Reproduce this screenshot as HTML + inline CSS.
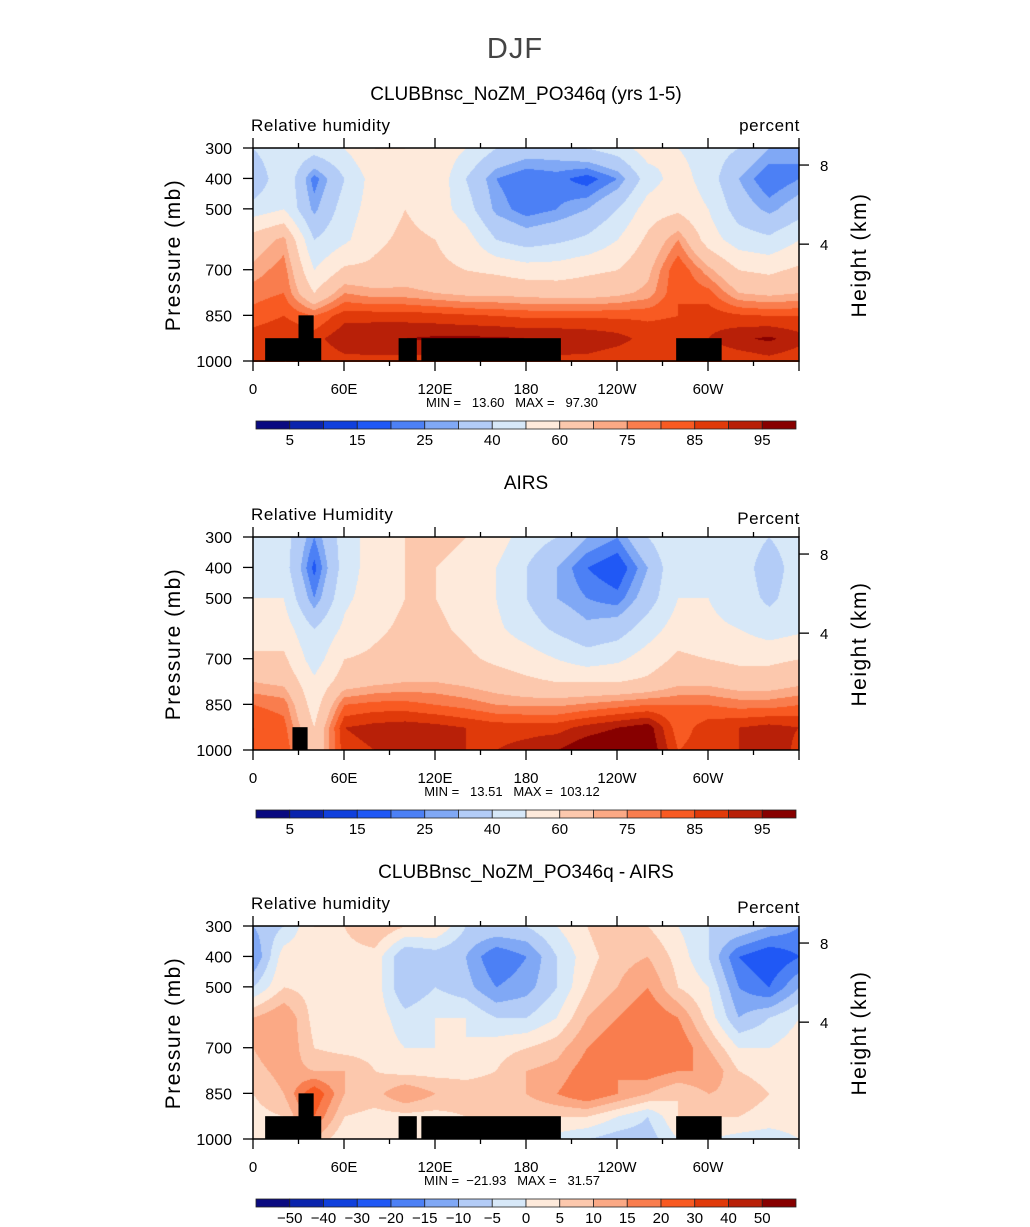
<!DOCTYPE html>
<html><head><meta charset="utf-8"><style>
html,body{margin:0;padding:0;background:#fff;}
#wrap{position:relative;width:1030px;height:1227px;overflow:hidden;font-family:"Liberation Sans",sans-serif;}
canvas{position:absolute;left:253px;}
svg{position:absolute;left:0;top:0;}
</style></head><body>
<div id="wrap">
<canvas id="c0" width="546" height="214" style="top:148px"></canvas>
<canvas id="c1" width="546" height="213" style="top:537px"></canvas>
<canvas id="c2" width="546" height="213" style="top:926px"></canvas>
<svg id="ov" width="1030" height="1227"></svg>
</div>
<script>
const lons=[0,20,40,60,80,100,120,140,160,180,200,220,240,260,280,300,320,340,360];
const levels=[300,400,500,600,700,775,850,925,1000];
const model=[
[40,50,45,50,60,60,58,50,40,35,35,40,45,55,50,45,40,30,25],
[30,50,22,40,55,60,58,40,25,20,22,17,25,45,55,45,30,20,25],
[45,50,28,45,55,60,56,45,28,22,25,30,40,55,58,50,35,28,35],
[65,72,40,48,58,62,60,55,40,35,38,42,50,62,75,55,45,42,50],
[72,78,50,62,62,65,62,60,58,55,55,58,60,68,85,72,60,58,62],
[78,80,60,75,72,72,70,68,68,67,66,66,68,72,85,82,70,68,70],
[82,85,80,88,88,88,87,86,85,84,84,84,84,84,85,88,86,85,85],
[88,90,88,94,95,95,96,96,96,95,95,94,92,88,88,90,94,96,92],
[85,85,85,88,88,88,88,88,88,88,88,88,86,85,85,85,86,88,86]];
const airs=[
[50,45,25,45,55,60,62,60,55,45,40,30,25,40,50,48,45,40,45],
[45,45,18,45,55,60,60,58,50,40,30,20,15,30,50,48,45,35,45],
[50,50,25,48,55,60,60,56,50,40,30,25,22,35,50,50,45,38,45],
[55,55,40,52,58,62,62,58,52,45,38,32,35,45,55,52,50,45,48],
[62,62,45,60,62,65,65,62,58,55,50,45,48,55,62,60,58,58,60],
[70,68,52,65,68,70,70,68,65,62,60,60,60,62,68,68,65,65,68],
[80,78,55,80,82,82,80,78,75,74,74,76,78,80,80,80,78,78,80],
[85,82,60,90,92,93,92,90,88,88,88,92,95,98,82,88,90,92,90],
[85,85,62,88,90,90,90,90,90,92,95,100,102,100,85,88,90,95,88]];
const diff=[
[-10,-5,5,5,10,5,5,-5,-5,-5,0,5,10,5,0,-5,-5,-10,-15],
[-15,3,3,3,3,-10,-8,-10,-20,-15,-5,3,8,10,3,-5,-20,-25,-20],
[-5,5,3,3,3,-10,-5,-8,-15,-12,-5,5,10,15,5,0,-15,-20,-10],
[10,15,3,3,3,-3,0,0,-5,-5,0,10,15,20,15,3,-10,-5,0],
[10,15,5,3,3,0,0,0,3,5,8,15,20,20,20,10,0,0,3],
[8,12,10,10,5,3,3,3,5,10,12,18,15,18,15,15,5,3,3],
[5,10,25,10,8,15,10,8,8,10,15,20,15,10,5,10,8,5,3],
[3,5,20,5,3,3,3,5,5,5,5,5,0,-5,5,5,5,3,3],
[0,0,10,0,0,0,0,0,0,-2,-2,-5,-8,-8,0,0,-2,-3,0]];
const rhBounds=[5,10,15,20,25,30,40,50,60,70,75,80,85,90,95];
const rhLabels=["5","15","25","40","60","75","85","95"];
const dBounds=[-50,-40,-30,-20,-15,-10,-5,0,5,10,15,20,30,40,50];
const dLabels=["\u221250","\u221240","\u221230","\u221220","\u221215","\u221210","\u22125","0","5","10","15","20","30","40","50"];
const colors=['#0a0a80','#0a24ad','#1040dc','#2058f5','#4c80f5','#80a8f5','#b3ccf7','#d7e8f8','#feeadb','#fcc8ad','#fba985','#f97d4e','#f85a22','#e03a0a','#b82008','#870000'];
const xTickLabels=["0","60E","120E","180","120W","60W"];
const xTickLons=[0,60,120,180,240,300];
const pTicks=[300,400,500,700,850,1000];
const hTicks=[8,4];
const hTickP=[356,616];
const panels=[
 {top:148,title:"CLUBBnsc_NoZM_PO346q (yrs 1-5)",left:"Relative humidity",right:"percent",rdy:0,data:model,bounds:rhBounds,labels:rhLabels,odd:true,mm:"MIN =   13.60   MAX =   97.30",topo:[[8,45,925],[30,40,850],[96,108,925],[111,203,925],[279,309,925]]},
 {top:537,title:"AIRS",left:"Relative Humidity",right:"Percent",rdy:4,data:airs,bounds:rhBounds,labels:rhLabels,odd:true,mm:"MIN =   13.51   MAX =  103.12",topo:[[26,36,925]]},
 {top:926,title:"CLUBBnsc_NoZM_PO346q - AIRS",left:"Relative humidity",right:"Percent",rdy:4,data:diff,bounds:dBounds,labels:dLabels,odd:false,mm:"MIN =  \u221221.93   MAX =   31.57",topo:[[8,45,925],[30,40,850],[96,108,925],[111,203,925],[279,309,925]]}];
const X0=253,W=546,H=213;
const xs=l=>X0+l/360*W;
const ys=(top,p)=>top+(p-300)/700*H;
const NS="http://www.w3.org/2000/svg";
const ov=document.getElementById('ov');
function mk(tag,attrs,name,txt){const e=document.createElementNS(NS,tag);for(const k in attrs)e.setAttribute(k,attrs[k]);


if(txt!==undefined)e.textContent=txt;ov.appendChild(e);return e;}
function hex(c){return [parseInt(c.substr(1,2),16),parseInt(c.substr(3,2),16),parseInt(c.substr(5,2),16)];}
function val(data,lon,p){
 let i=Math.min(lons.length-2,Math.floor(lon/20));let fx=(lon-lons[i])/20;
 let j=0;while(j<levels.length-2&&p>levels[j+1])j++;
 let fy=(p-levels[j])/(levels[j+1]-levels[j]);
 const a=data[j][i],b=data[j][i+1],c=data[j+1][i],d=data[j+1][i+1];
 return (a*(1-fx)+b*fx)*(1-fy)+(c*(1-fx)+d*fx)*fy;}
mk('text',{x:515,y:58,'text-anchor':'middle','font-size':29,fill:'#444','letter-spacing':'1'},'figure-title','DJF');
panels.forEach((P,k)=>{
 const cv=document.getElementById('c'+k);const ctx=cv.getContext('2d');
 const img=ctx.createImageData(cv.width,cv.height);const rgb=colors.map(hex);
 for(let y=0;y<cv.height;y++)for(let x=0;x<cv.width;x++){
  const lon=x/W*360,p=300+y/H*700;const v=val(P.data,lon,p);
  let ci=0;while(ci<P.bounds.length&&v>=P.bounds[ci])ci++;
  const o=(y*cv.width+x)*4;img.data[o]=rgb[ci][0];img.data[o+1]=rgb[ci][1];img.data[o+2]=rgb[ci][2];img.data[o+3]=255;}
 ctx.putImageData(img,0,0);
 const T=P.top;
 P.topo.forEach(t=>{mk('rect',{x:xs(t[0]),y:ys(T,t[2]),width:xs(t[1])-xs(t[0]),height:ys(T,1000)-ys(T,t[2]),fill:'#000'},'topography-mask');});
 mk('rect',{x:X0,y:T,width:W,height:H,fill:'none',stroke:'#000','stroke-width':1.5},'plot-frame');
 mk('text',{x:526,y:T-48,'text-anchor':'middle','font-size':19,fill:'#000'},'panel-title',P.title);
 mk('text',{x:251,y:T-17,'font-size':17,fill:'#000','letter-spacing':'0.6'},'variable-label',P.left);
 mk('text',{x:800,y:T-17+P.rdy,'text-anchor':'end','font-size':17,fill:'#000','letter-spacing':'0.6'},'units-label',P.right);
 for(let l=0;l<=360;l+=30){const mj=l%60==0;const L=mj?10:5;
  mk('line',{x1:xs(l),x2:xs(l),y1:T,y2:T-L,stroke:'#000','stroke-width':1.3},'x-tick-top');
  mk('line',{x1:xs(l),x2:xs(l),y1:T+H,y2:T+H+L,stroke:'#000','stroke-width':1.3},'x-tick-bottom');}
 xTickLabels.forEach((s,i)=>mk('text',{x:xs(xTickLons[i]),y:T+H+33,'text-anchor':'middle','font-size':15,fill:'#000'},'x-tick-label',s));
 pTicks.forEach(p=>{mk('line',{x1:X0-10,x2:X0,y1:ys(T,p),y2:ys(T,p),stroke:'#000','stroke-width':1.3},'y-tick');
  mk('text',{x:232,y:ys(T,p)+6,'text-anchor':'end','font-size':16,fill:'#000'},'y-tick-label',String(p));});
 hTicks.forEach((h,i)=>{const y=ys(T,hTickP[i]);mk('line',{x1:X0+W,x2:X0+W+10,y1:y,y2:y,stroke:'#000','stroke-width':1.3},'height-tick');
  mk('text',{x:820,y:y+6,'font-size':15,fill:'#000'},'height-tick-label',String(h));});
 mk('text',{x:0,y:0,transform:`translate(180,${T+107}) rotate(-90)`,'text-anchor':'middle','font-size':21,fill:'#000','letter-spacing':'1.5'},'y-axis-title','Pressure (mb)');
 mk('text',{x:0,y:0,transform:`translate(866,${T+107}) rotate(-90)`,'text-anchor':'middle','font-size':21,fill:'#000','letter-spacing':'1.5'},'right-axis-title','Height (km)');
 mk('text',{x:512,y:T+259,'text-anchor':'middle','font-size':13,fill:'#000',style:'white-space:pre'},'min-max-label',P.mm);
 const cy=T+273,cw=540/16;
 colors.forEach((c,i)=>mk('rect',{x:256+i*cw,y:cy,width:cw,height:8,fill:c,stroke:'#222','stroke-width':0.8},'colorbar-box'));
 P.labels.forEach((s,i)=>{const b=P.odd?2*i+1:i+1;mk('text',{x:256+b*cw,y:cy+24,'text-anchor':'middle','font-size':15,fill:'#000'},'colorbar-label',s);});
});
</script>
</body></html>
